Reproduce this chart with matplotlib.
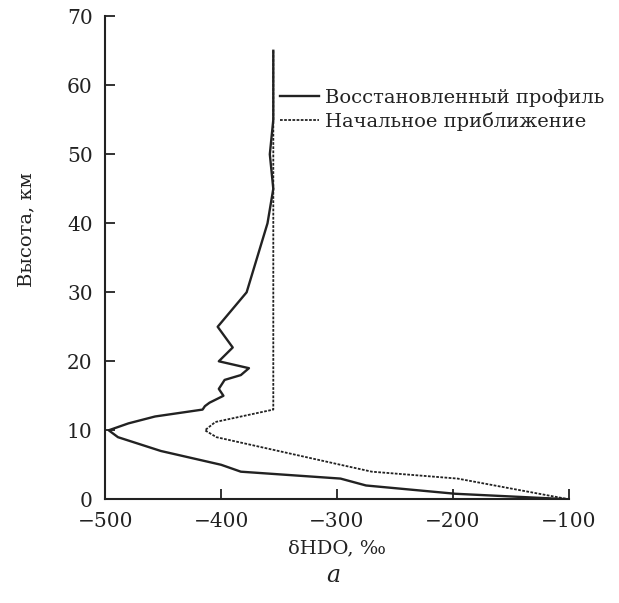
import matplotlib
matplotlib.use('Agg')
import matplotlib.pyplot as plt

# Восстановленный профиль (solid)
rec_km = [65, 60, 55, 50, 45, 40, 30, 25, 22, 20, 19, 18, 17.3, 16, 15, 14,
          13.5, 13, 12, 11, 10, 9, 7, 5, 4, 3, 2, 0.8, 0]
rec_d = [-355, -355, -355, -358, -355, -360, -378, -403, -390, -402, -376,
         -383, -397, -402, -398, -410, -414, -416, -457, -480, -497, -489,
         -452, -400, -383, -297, -275, -198, -100]

# Начальное приближение (dashed)
ini_km = [65, 13, 11.2, 10, 9, 5, 4, 3, 0]
ini_d = [-355, -355, -405, -414, -404, -297, -270, -196, -100]

x_ticks = [-500, -400, -300, -200, -100]
y_ticks = [0, 10, 20, 30, 40, 50, 60, 70]

plt.rcParams['font.family'] = ['DejaVu Serif']
plt.rcParams['font.size'] = 14

fig = plt.figure(figsize=(6.19, 6.03), dpi=100)
ax = fig.add_axes([0.170, 0.172, 0.749, 0.801])

col = '#222222'
ax.plot(rec_d, rec_km, color=col, lw=1.7, label='Восстановленный профиль')
ax.plot(ini_d, ini_km, color=col, lw=1.3, ls=(0, (1.5, 0.8)),
        label='Начальное приближение')

ax.set_xlim(-500, -100)
ax.set_ylim(0, 70)
ax.set_xticks(x_ticks)
ax.set_yticks(y_ticks)
ax.tick_params(direction='in', length=7, width=1.3, colors=col, labelsize=14.5)
ax.tick_params(axis='y', pad=9)
ax.tick_params(axis='x', pad=9)
for s in ['top', 'right']:
    ax.spines[s].set_visible(False)
for s in ['left', 'bottom']:
    ax.spines[s].set_linewidth(1.5)
    ax.spines[s].set_color(col)

ax.set_ylabel('Высота, км', fontsize=14, color=col)
ax.yaxis.set_label_coords(-0.15, 0.558)
ax.set_xlabel('δHDO, ‰', fontsize=14, color=col, labelpad=6)

fig.text(0.538, 0.045, 'а', fontsize=17, style='italic', ha='center',
         va='center', color=col)

leg = ax.legend(loc='upper left', bbox_to_anchor=(0.36, 0.865), frameon=False,
                fontsize=14, handlelength=2.0, handletextpad=0.3,
                labelspacing=0.25, borderaxespad=0)
for t in leg.get_texts():
    t.set_color(col)

fig.savefig('out.png', dpi=100)
